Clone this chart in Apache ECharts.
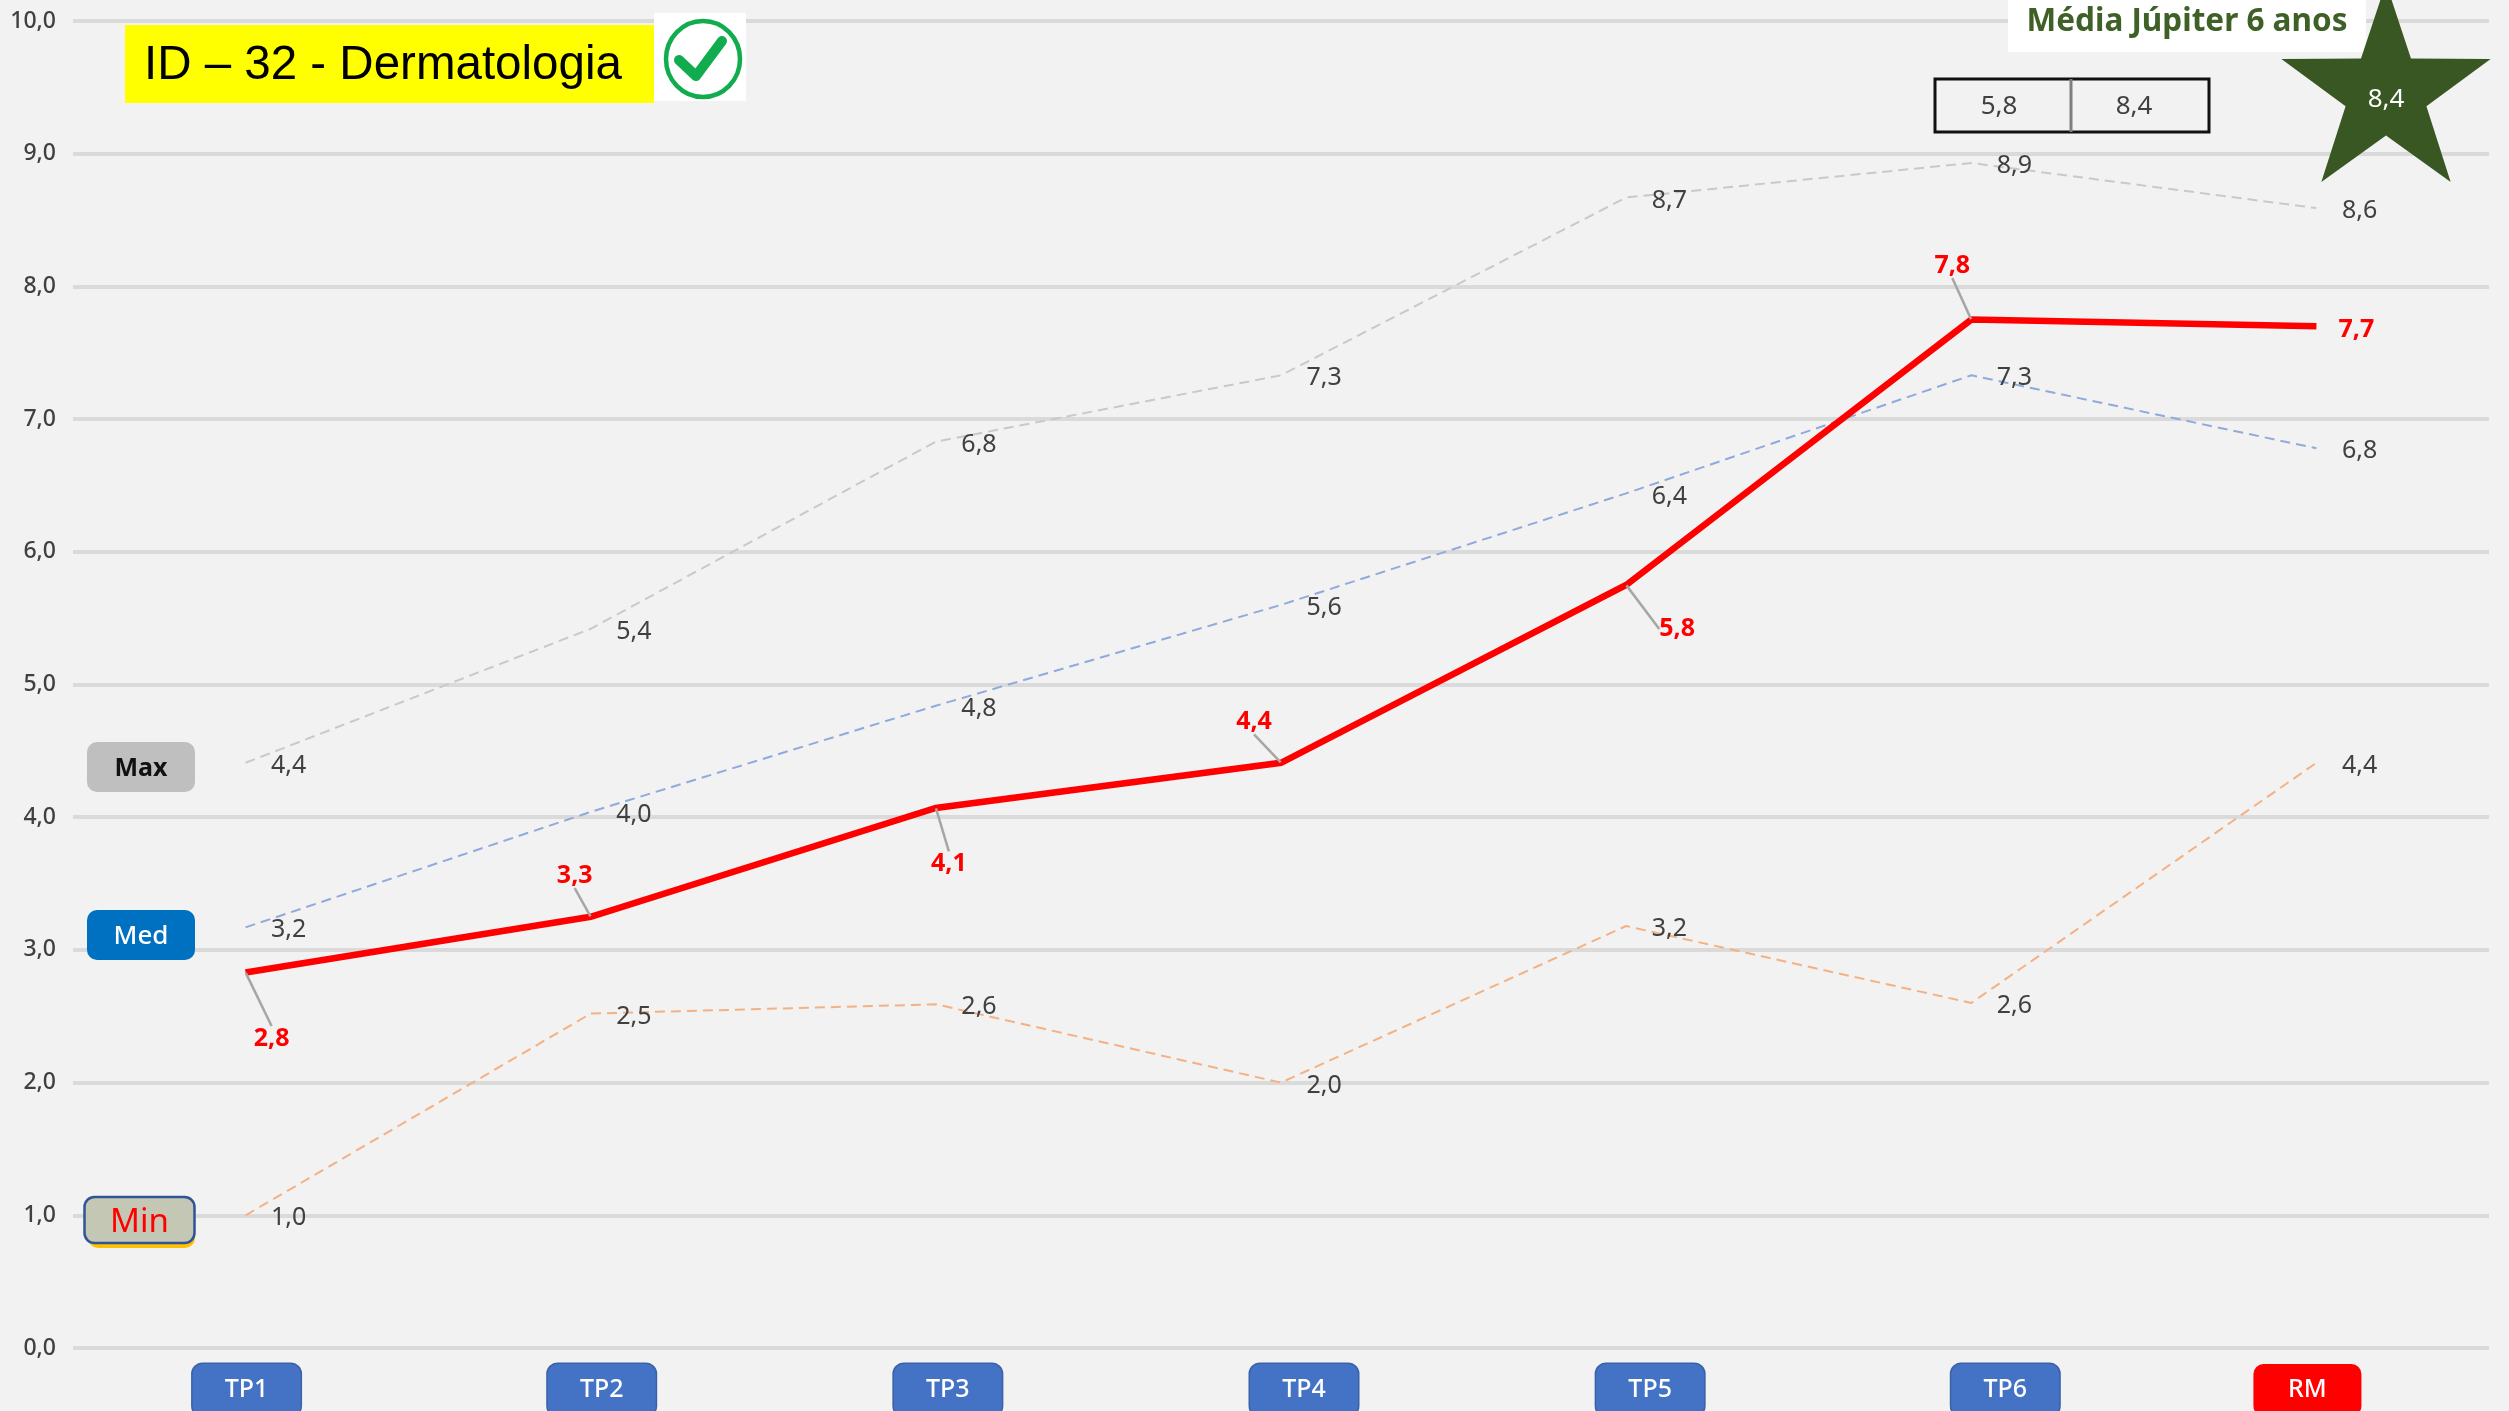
<!DOCTYPE html>
<html>
<head>
<meta charset="utf-8">
<style>html,body{margin:0;padding:0;background:#f2f2f2}#c{width:2509px;height:1411px}</style>
<script src="https://cdn.jsdelivr.net/npm/echarts@6/dist/echarts.min.js"></script>
</head>
<body>
<div id="c"></div>
<script>
const categories = ['TP1','TP2','TP3','TP4','TP5','TP6','RM'];
const yTicks = {min:0, max:10, interval:1};
const maxValues = [4.41,5.42,6.83,7.33,8.67,8.93,8.59];
const medValues = [3.17,4.04,4.84,5.60,6.44,7.33,6.78];
const minValues = [1.00,2.52,2.59,2.00,3.18,2.60,4.41];
const redValues = [2.83,3.25,4.07,4.41,5.75,7.75,7.70];
const titleText = 'ID – 32 - Dermatologia';
const jupiterText = 'Média Júpiter 6 anos';
const tableValues = ['5,8','8,4'];
const starValue = '8,4';

// styling only
const redOffsets = [[26,66],[-16,-41],[13,56],[-27,-41],[51,44],[-19,-54],[40,4]];
const btnShift = [1,11,12,23,24,34,-9];
const fmt = v => v.toFixed(1).replace('.',',');
const FONT = '"Noto Sans"';

function thin(name, data, color){
  return {
    type:'line', name, data, symbol:'circle', symbolSize:1, showSymbol:true, z:3,
    itemStyle:{color:'transparent'},
    lineStyle:{color, width:2, type:[10,6]},
    label:{show:true, position:'right', distance:25, offset:[0,3], color:'#404040', fontFamily:FONT, fontSize:25,
      formatter:p=>fmt(p.value)},
    animation:false, silent:true
  };
}
const starPts = [];
for(let i=0;i<10;i++){
  const r = i%2? 42.5:110, a = -Math.PI/2 + i*Math.PI/5;
  starPts.push([2386+r*Math.cos(a), 93+r*Math.sin(a)]);
}
function chip(x,y,w,h,fill,text,color,size,weight,extra,dy){
  return [
    {type:'rect', z:10, shape:{x,y,width:w,height:h,r:10}, style:Object.assign({fill},extra||{})},
    {type:'text', z:11, style:{x:x+w/2,y:y+h/2+(dy||0),text,fill:color,font:`${weight} ${size}px ${FONT}`,align:'center',verticalAlign:'middle'}}
  ];
}
const rich = {
  btn:{width:108,height:52,align:'center',backgroundColor:'#4472C4',borderColor:'#3A62A8',borderWidth:1.5,borderRadius:10,
       color:'#fff',fontFamily:FONT,fontSize:25,fontWeight:500},
  btnRed:{width:108,height:52,align:'center',backgroundColor:'#FF0000',borderRadius:10,
       color:'#fff',fontFamily:FONT,fontSize:25,fontWeight:500}
};
btnShift.forEach((s,i)=>{ rich['s'+i]={width:Math.abs(s)*2,height:1}; });

const chart = echarts.init(document.getElementById('c'),null,{renderer:'canvas'});
chart.setOption({
  animation:false,
  backgroundColor:'#f2f2f2',
  grid:{left:73,right:20,top:21,bottom:63,containLabel:false,outerBoundsMode:'none'},
  xAxis:{type:'category',data:categories,boundaryGap:true,
    axisLine:{show:false},axisTick:{show:false},
    axisLabel:{interval:0,margin:16,verticalAlign:'top',rich,
      formatter:(v,i)=>{
        const s=btnShift[i], b=v==='RM'?'btnRed':'btn';
        if(s>0) return `{s${i}| }{${b}|${v}}`;
        if(s<0) return `{${b}|${v}}{s${i}| }`;
        return `{${b}|${v}}`;
      }}
  },
  yAxis:{type:'value',min:yTicks.min,max:yTicks.max,interval:yTicks.interval,
    axisLine:{show:false},axisTick:{show:false},
    splitLine:{lineStyle:{color:'#dadada',width:4}},
    axisLabel:{margin:17,color:'#404040',fontFamily:FONT,fontSize:23,fontWeight:500,padding:[2,0,0,0],formatter:v=>fmt(v)}
  },
  series:[
    thin('Max',maxValues,'#C9C9C9'),
    thin('Med',medValues,'#8FAADC'),
    thin('Min',minValues,'#F4B183'),
    {type:'line',name:'Dermatologia',z:5,animation:false,silent:true,
     symbol:'circle',symbolSize:1,showSymbol:true,itemStyle:{color:'transparent'},
     lineStyle:{color:'#FF0000',width:6.5,join:'miter',cap:'butt'},
     data:redValues.map((v,i)=>({value:v,labelLine:{show:i!==6}})),
     label:{show:true,position:'inside',color:'#FF0000',fontFamily:FONT,fontSize:25,fontWeight:'bold',
       formatter:p=>fmt(p.value)},
     labelLine:{show:true,lineStyle:{color:'#A6A6A6',width:2.5}},
     labelLayout:p=>({dx:redOffsets[p.dataIndex][0],dy:redOffsets[p.dataIndex][1]})
    }
  ],
  graphic:{elements:[
    {type:'rect',z:10,shape:{x:125,y:25,width:529,height:78},style:{fill:'#FFFF00'}},
    {type:'text',z:11,style:{x:144,y:66,text:titleText,fill:'#000',font:'47.5px "Liberation Sans"',verticalAlign:'middle'}},
    {type:'rect',z:10,shape:{x:654,y:13,width:92,height:88},style:{fill:'#fff'}},
    {type:'ellipse',z:11,shape:{cx:703,cy:59,rx:37,ry:38},style:{fill:'none',stroke:'#11AC4E',lineWidth:4.5}},
    {type:'polyline',z:11,shape:{points:[[679,60],[696,76],[722,41]]},style:{fill:'none',stroke:'#11AC4E',lineWidth:10,lineCap:'round',lineJoin:'round'}},
    {type:'rect',z:10,shape:{x:2008,y:0,width:358,height:52},style:{fill:'#fff'}},
    {type:'text',z:11,style:{x:2187,y:22,text:jupiterText,fill:'#3F6128',font:`bold 31.5px ${FONT}`,align:'center',verticalAlign:'middle'}},
    {type:'polygon',z:12,shape:{points:starPts},style:{fill:'#385723'}},
    {type:'text',z:13,style:{x:2386,y:100,text:starValue,fill:'#fff',font:`26px ${FONT}`,align:'center',verticalAlign:'middle'}},
    {type:'rect',z:10,shape:{x:1935,y:79,width:274,height:53},style:{fill:'none',stroke:'#111',lineWidth:3}},
    {type:'line',z:10,shape:{x1:2071,y1:79,x2:2071,y2:132},style:{stroke:'#7f7f7f',lineWidth:3}},
    {type:'text',z:11,style:{x:1999,y:107,text:tableValues[0],fill:'#404040',font:`26px ${FONT}`,align:'center',verticalAlign:'middle'}},
    {type:'text',z:11,style:{x:2134,y:107,text:tableValues[1],fill:'#404040',font:`26px ${FONT}`,align:'center',verticalAlign:'middle'}},
    ...chip(87,742,108,50,'#BFBFBF','Max','#111',25,'bold',null,2),
    ...chip(87,910,108,50,'#0070C0','Med','#fff',26,'500',null,2),
    {type:'rect',z:9,shape:{x:88,y:1206,width:107,height:42,r:10},style:{fill:'#FFC000'}},
    ...chip(84.5,1197,110,46,'#C4C7B4','Min','#FF0000',33,'normal',{stroke:'#2F5597',lineWidth:2.5},3)
  ]}
});
</script>
</body>
</html>
